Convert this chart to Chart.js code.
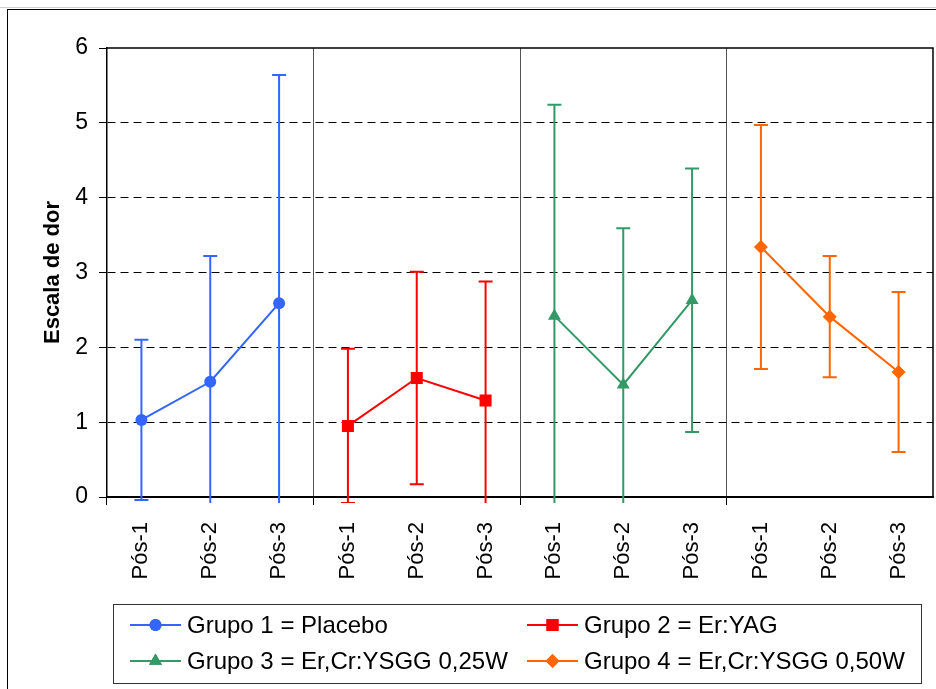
<!DOCTYPE html>
<html>
<head>
<meta charset="utf-8">
<script src="https://cdn.jsdelivr.net/npm/chart.js@4.4.1/dist/chart.umd.min.js"></script>
<style>
html,body{margin:0;padding:0;background:#fff;}
canvas{display:block;}
</style>
</head>
<body>
<canvas id="c" width="936" height="689"></canvas>
<script>
// ---- data ----
const categories = ['Pós-1', 'Pós-2', 'Pós-3'];
const groupNames = [
  'Grupo 1 = Placebo',
  'Grupo 2 = Er:YAG',
  'Grupo 3 = Er,Cr:YSGG 0,25W',
  'Grupo 4 = Er,Cr:YSGG 0,50W'
];
const grupo1Media = [1.03, 1.54, 2.59];
const grupo1DP    = [1.07, 1.68, 3.05];
const grupo2Media = [0.95, 1.59, 1.29];
const grupo2DP    = [1.03, 1.42, 1.59];
const grupo3Media = [2.42, 1.50, 2.63];
const grupo3DP    = [2.82, 2.09, 1.76];
const grupo4Media = [3.34, 2.41, 1.67];
const grupo4DP    = [1.63, 0.81, 1.07];
const yTicks = [0, 1, 2, 3, 4, 5, 6];
const yTitle = 'Escala de dor';

// ---- styles ----
const FONT = "'Liberation Sans', Arial, sans-serif";
const colors = ['#3366FF', '#FF0000', '#339966', '#FF6600'];
const styles = [
  {pointStyle: 'circle', radius: 6},
  {pointStyle: 'rect', radius: 8.5},
  {pointStyle: 'triangle', radius: 7.5},
  {pointStyle: 'rectRot', radius: 7}
];

const allLabels = [].concat(categories, categories, categories, categories);
function placed(values, g) {
  const arr = new Array(allLabels.length).fill(null);
  values.forEach((v, i) => { arr[g * categories.length + i] = v; });
  return arr;
}
const medias = [grupo1Media, grupo2Media, grupo3Media, grupo4Media];
const dps = [grupo1DP, grupo2DP, grupo3DP, grupo4DP];

const datasets = medias.map((m, g) => ({
  label: groupNames[g],
  data: placed(m, g),
  sd: placed(dps[g], g),
  borderColor: colors[g],
  backgroundColor: colors[g],
  pointBackgroundColor: colors[g],
  pointBorderColor: colors[g],
  pointBorderWidth: 0,
  pointStyle: styles[g].pointStyle,
  pointRadius: styles[g].radius,
  borderWidth: 2,
  spanGaps: false,
  tension: 0
}));

const errorBars = {
  id: 'errorBars',
  beforeDatasetsDraw(chart) {
    const {ctx, chartArea, scales: {x, y}} = chart;
    ctx.save();
    ctx.beginPath();
    ctx.rect(chartArea.left, chartArea.top - 2, chartArea.right - chartArea.left, chartArea.bottom - chartArea.top + 8);
    ctx.clip();
    chart.data.datasets.forEach(ds => {
      ds.data.forEach((v, i) => {
        if (v == null) return;
        const sd = ds.sd[i];
        const px = x.getPixelForValue(i);
        const yt = y.getPixelForValue(v + sd);
        const yb = y.getPixelForValue(v - sd);
        ctx.strokeStyle = ds.borderColor;
        ctx.lineWidth = 2;
        ctx.beginPath();
        ctx.moveTo(px, yt); ctx.lineTo(px, yb);
        ctx.moveTo(px - 7, yt); ctx.lineTo(px + 7, yt);
        ctx.moveTo(px - 7, yb); ctx.lineTo(px + 7, yb);
        ctx.stroke();
      });
    });
    ctx.restore();
  }
};

const frame = {
  id: 'frame',
  beforeDraw(chart) {
    const ctx = chart.ctx;
    ctx.save();
    ctx.fillStyle = '#fff';
    ctx.fillRect(0, 0, chart.width, chart.height);
    ctx.strokeStyle = '#d0d0d0';
    ctx.lineWidth = 1;
    ctx.beginPath(); ctx.moveTo(0, 7.5); ctx.lineTo(chart.width, 7.5); ctx.stroke();
    ctx.strokeStyle = '#000';
    ctx.strokeRect(7.5, 9.5, 940, 700);
    ctx.restore();
  },
  afterDraw(chart) {
    const {ctx, chartArea} = chart;
    ctx.save();
    ctx.strokeStyle = '#000';
    ctx.lineWidth = 1.5;
    ctx.beginPath();
    ctx.moveTo(chartArea.left, chartArea.top);
    ctx.lineTo(chartArea.right, chartArea.top);
    ctx.lineTo(chartArea.right, chartArea.bottom);
    ctx.stroke();
    // legend
    const lx = 113.5, ly = 604.5, lw = 808, lh = 79;
    ctx.lineWidth = 1;
    ctx.strokeStyle = '#333';
    ctx.strokeRect(lx, ly, lw, lh);
    const cols = [130, 527];
    const rows = [625, 661];
    ctx.font = '24px ' + FONT;
    ctx.textBaseline = 'middle';
    ctx.textAlign = 'left';
    chart.data.datasets.forEach((ds, i) => {
      const cx = cols[i % 2], cy = rows[Math.floor(i / 2)];
      ctx.strokeStyle = ds.borderColor;
      ctx.lineWidth = 2;
      ctx.beginPath(); ctx.moveTo(cx, cy); ctx.lineTo(cx + 51, cy); ctx.stroke();
      ctx.fillStyle = ds.borderColor;
      Chart.helpers.drawPoint(ctx, {pointStyle: ds.pointStyle, radius: ds.pointRadius, rotation: 0, borderWidth: 0}, cx + 25.5, cy);
      ctx.fill();
      ctx.fillStyle = '#000';
      ctx.fillText(ds.label, cx + 57, cy + 1);
    });
    ctx.restore();
  }
};

new Chart(document.getElementById('c'), {
  type: 'line',
  data: {labels: allLabels, datasets},
  plugins: [frame, errorBars],
  options: {
    responsive: false,
    animation: false,
    events: [],
    layout: {autoPadding: false, padding: {top: 48, right: 3, bottom: 92, left: 0}},
    plugins: {legend: {display: false}, tooltip: {enabled: false}, title: {display: false}},
    scales: {
      x: {
        type: 'category',
        offset: true,
        grid: {
          offset: true,
          drawOnChartArea: true,
          color: c => (c.index % 3 === 0) ? '#555' : 'rgba(0,0,0,0)',
          tickColor: c => (c.index % 3 === 0) ? '#000' : 'rgba(0,0,0,0)',
          tickLength: 8,
          lineWidth: 1
        },
        border: {color: '#000', width: 2},
        ticks: {
          autoSkip: false,
          minRotation: 90,
          maxRotation: 90,
          padding: 17,
          color: '#000',
          font: {family: FONT, size: 22}
        },
        afterFit: s => { s.height = 100; s.paddingLeft = 0; s.paddingRight = 0; }
      },
      y: {
        min: 0,
        max: 6,
        afterBuildTicks: s => { s.ticks = yTicks.map(v => ({value: v})); },
        ticks: {
          color: '#000',
          padding: 11,
          font: {family: FONT, size: 23}
        },
        grid: {
          color: c => (c.tick && c.tick.value > 0 && c.tick.value < 6) ? '#000' : 'rgba(0,0,0,0)',
          tickColor: '#000',
          tickLength: 8,
          lineWidth: 1
        },
        border: {color: '#000', width: 1.5, dash: [8, 5]},
        title: {
          display: true,
          text: yTitle,
          color: '#000',
          padding: {top: 40, bottom: 0},
          font: {family: FONT, size: 22, weight: 'bold'}
        },
        afterFit: s => { s.width = 107; s.paddingTop = 0; s.paddingBottom = 0; }
      }
    }
  }
});
</script>
</body>
</html>
